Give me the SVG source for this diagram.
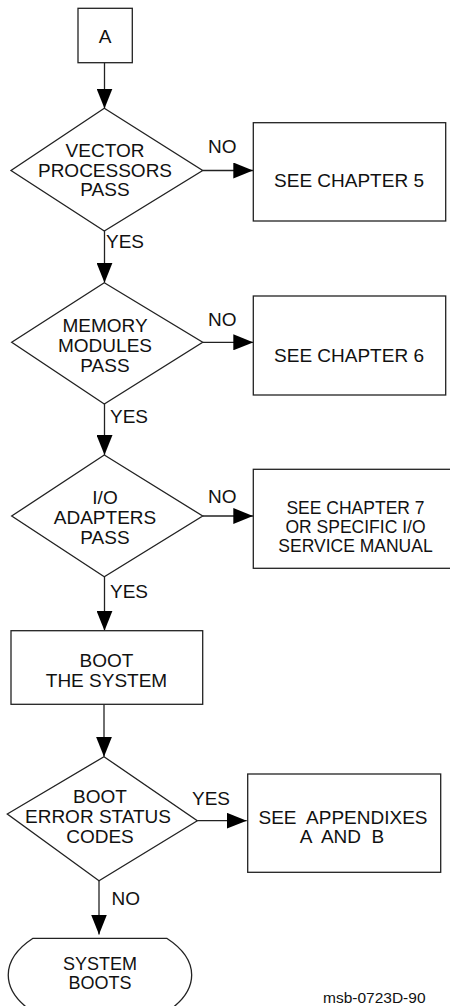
<svg xmlns="http://www.w3.org/2000/svg" width="450" height="1006" viewBox="0 0 450 1006">
  <style>
    .shape { fill: #fff; stroke: #222; stroke-width: 1.3; }
    .wire { fill: none; stroke: #222; stroke-width: 1.3; }
    .t { font-family: "Liberation Sans", Arial, sans-serif; font-size: 19px; fill: #111; text-anchor: middle; white-space: pre; }
    .t.sm { font-size: 17.5px; }
    .t.md { font-size: 18px; }
    .lbl { font-family: "Liberation Sans", Arial, sans-serif; font-size: 19px; fill: #111; }
    .ref { font-family: "Liberation Sans", Arial, sans-serif; font-size: 15.5px; fill: #111; }
  </style>
  <defs>
    <marker id="arrow" viewBox="0 0 20 16" refX="20" refY="8" markerWidth="20" markerHeight="16" markerUnits="userSpaceOnUse" orient="auto">
      <path d="M0,0 L20,8 L0,16 Z" fill="#000"/>
    </marker>
  </defs>

  <!-- connectors -->
  <g id="connectors">
    <line class="wire" x1="104.5" y1="63" x2="104.5" y2="108.5" marker-end="url(#arrow)"/>
    <line class="wire" x1="202.7" y1="170.5" x2="253.3" y2="170.5" marker-end="url(#arrow)"/>
    <line class="wire" x1="104.5" y1="231" x2="104.5" y2="282.7" marker-end="url(#arrow)"/>
    <line class="wire" x1="202.7" y1="342.3" x2="253.3" y2="342.3" marker-end="url(#arrow)"/>
    <line class="wire" x1="104.5" y1="404" x2="104.5" y2="455" marker-end="url(#arrow)"/>
    <line class="wire" x1="202.7" y1="516" x2="253.3" y2="516" marker-end="url(#arrow)"/>
    <line class="wire" x1="104.5" y1="577" x2="104.5" y2="630.7" marker-end="url(#arrow)"/>
    <line class="wire" x1="104" y1="704.3" x2="104" y2="756.7" marker-end="url(#arrow)"/>
    <line class="wire" x1="197.3" y1="820.7" x2="246.7" y2="820.7" marker-end="url(#arrow)"/>
    <line class="wire" x1="99" y1="880.7" x2="99" y2="934.5" marker-end="url(#arrow)"/>

    <text class="lbl" x="208" y="153">NO</text>
    <text class="lbl" x="106" y="248">YES</text>
    <text class="lbl" x="208" y="326">NO</text>
    <text class="lbl" x="110" y="423">YES</text>
    <text class="lbl" x="208" y="503">NO</text>
    <text class="lbl" x="110" y="598">YES</text>
    <text class="lbl" x="192" y="805">YES</text>
    <text class="lbl" x="111.5" y="905">NO</text>
  </g>

  <!-- connector start -->
  <g id="start-a">
    <rect class="shape" x="78" y="8.3" width="54.3" height="54.4"/>
    <text class="t" x="105" y="43">A</text>
  </g>

  <g id="vector-processors">
    <polygon class="shape" points="104.3,108.3 202.7,170.5 104.3,231 11,170.5"/>
    <text class="t" x="105" y="157">VECTOR</text>
    <text class="t" x="105" y="176.5">PROCESSORS</text>
    <text class="t" x="105" y="196">PASS</text>
  </g>

  <g id="see-chapter-5">
    <rect class="shape" x="253.3" y="122.7" width="192.4" height="98.3"/>
    <text class="t" x="349" y="186.7">SEE CHAPTER 5</text>
  </g>

  <g id="memory-modules">
    <polygon class="shape" points="104.3,282.7 202.7,342.3 104.3,404 11.7,342.3"/>
    <text class="t" x="105" y="331.7">MEMORY</text>
    <text class="t" x="105" y="351.7">MODULES</text>
    <text class="t" x="105" y="371.7">PASS</text>
  </g>

  <g id="see-chapter-6">
    <rect class="shape" x="253.3" y="296" width="192.4" height="99"/>
    <text class="t" x="349" y="361.7">SEE CHAPTER 6</text>
  </g>

  <g id="io-adapters">
    <polygon class="shape" points="104.3,455 202.7,516 104.3,576.7 11.7,516"/>
    <text class="t" x="105" y="504.3">I/O</text>
    <text class="t" x="105" y="524.3">ADAPTERS</text>
    <text class="t" x="105" y="544.3">PASS</text>
  </g>

  <g id="see-chapter-7">
    <rect class="shape" x="253.3" y="469.3" width="200" height="99"/>
    <text class="t sm" x="355.5" y="514">SEE CHAPTER 7</text>
    <text class="t sm" x="355.5" y="532.7">OR SPECIFIC I/O</text>
    <text class="t sm" x="355.5" y="551.7">SERVICE MANUAL</text>
  </g>

  <g id="boot-system">
    <rect class="shape" x="11" y="630.7" width="191.7" height="73.6"/>
    <text class="t" x="106.5" y="666.7">BOOT</text>
    <text class="t" x="106.5" y="686.7">THE SYSTEM</text>
  </g>

  <g id="boot-error-codes">
    <polygon class="shape" points="104,756.7 197.3,820.7 99,880.7 7.3,814"/>
    <text class="t" x="100" y="802.7">BOOT</text>
    <text class="t" x="98" y="823.3">ERROR STATUS</text>
    <text class="t" x="100" y="843.3">CODES</text>
  </g>

  <g id="see-appendixes">
    <rect class="shape" x="247.7" y="774" width="193" height="98.3"/>
    <text class="t" x="343" y="824.3">SEE  APPENDIXES</text>
    <text class="t" x="342" y="843.3">A  AND  B</text>
  </g>

  <!-- terminal -->
  <g id="system-boots">
    <path class="shape" d="M33,938.3 H166.7 C200,960 200,990 166.7,1012 H33 C0,990 0,960 33,938.3 Z"/>
    <text class="t md" x="100" y="969.7">SYSTEM</text>
    <text class="t md" x="100" y="988.5">BOOTS</text>
  </g>

  <text class="ref" x="323" y="1003">msb-0723D-90</text>
</svg>
